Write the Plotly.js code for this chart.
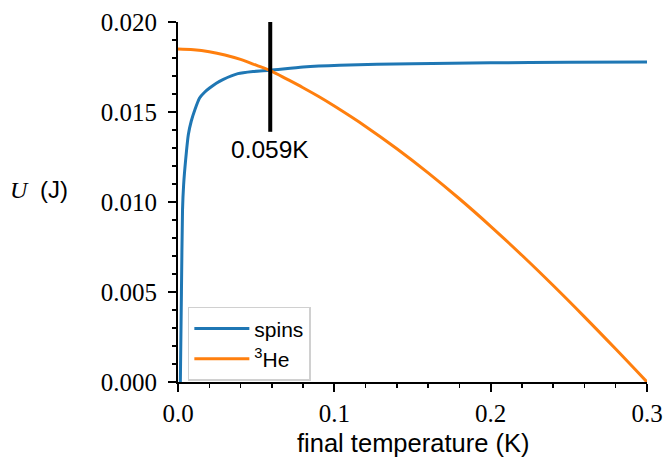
<!DOCTYPE html>
<html>
<head>
<meta charset="utf-8">
<script src="https://cdn.plot.ly/plotly-3.0.1.min.js"></script>
<style>html,body{margin:0;padding:0;background:#fff;}#chart{width:665px;height:460px;}</style>
</head>
<body>
<div id="chart"></div>
<script>
// Data
const spinsT = [0.0015, 0.0022, 0.0029, 0.0036, 0.0049, 0.0066, 0.0085, 0.0108, 0.0138, 0.0170, 0.0202, 0.0245, 0.0287, 0.0383, 0.0480, 0.059, 0.080, 0.1034, 0.150, 0.200, 0.250, 0.300];
const spinsU = [0.0, 0.0050, 0.00957, 0.01096, 0.01235, 0.01374, 0.01450, 0.01513, 0.01578, 0.01610, 0.01633, 0.01660, 0.01680, 0.01713, 0.01725, 0.01732, 0.01750, 0.01760, 0.01768, 0.01773, 0.01776, 0.01778];
const heT = [0.000, 0.010, 0.020, 0.030, 0.040, 0.050, 0.059, 0.070, 0.080, 0.090, 0.100, 0.120, 0.140, 0.160, 0.180, 0.200, 0.220, 0.240, 0.260, 0.280, 0.300];
const heU = [0.01850, 0.01846, 0.01835, 0.01817, 0.01792, 0.01760, 0.01730, 0.01681, 0.01635, 0.01586, 0.01533, 0.01420, 0.01296, 0.01162, 0.01018, 0.00865, 0.00704, 0.00536, 0.00362, 0.00183, 0.0];
const crossT = 0.059;
const markerT = [crossT, crossT];
const markerU = [0.0139, 0.0200];
const markerLabel = "0.059K";
const seriesNames = ["spins", "<sup>3</sup>He"];
const xTicks = [0.0, 0.1, 0.2, 0.3];
const xTickText = ["0.0", "0.1", "0.2", "0.3"];
const yTicks = [0.000, 0.005, 0.010, 0.015, 0.020];
const yTickText = ["0.000", "0.005", "0.010", "0.015", "0.020"];

const serif = "'Liberation Serif', 'DejaVu Serif', serif";
const sans = "'Liberation Sans', Arial, sans-serif";

const traces = [
  {x: spinsT, y: spinsU, type: "scatter", mode: "lines", name: seriesNames[0],
   line: {color: "#1f77b4", width: 3, shape: "spline", smoothing: 0.6}},
  {x: heT, y: heU, type: "scatter", mode: "lines", name: seriesNames[1],
   line: {color: "#ff7f0e", width: 3, shape: "spline", smoothing: 1}},
  {x: markerT, y: markerU, type: "scatter", mode: "lines", showlegend: false,
   line: {color: "#000", width: 4}, hoverinfo: "skip"}
];

const layout = {
  width: 665, height: 460,
  margin: {l: 178, r: 18, t: 22, b: 78},
  paper_bgcolor: "#fff", plot_bgcolor: "#fff",
  showlegend: true,
  legend: {x: 0.021, y: 0.209, xanchor: "left", yanchor: "top", itemwidth: 55,
           bgcolor: "rgba(255,255,255,0.8)", bordercolor: "#d0d0d0", borderwidth: 1.5,
           font: {family: sans, size: 21, color: "#000"}, tracegroupgap: 0},
  xaxis: {range: [0, 0.3], tickvals: xTicks, ticktext: xTickText,
          ticks: "outside", ticklen: 8, tickwidth: 2, tickcolor: "#000",
          showline: true, linewidth: 2, linecolor: "#000", showgrid: false, zeroline: false,
          tickfont: {family: serif, size: 25, color: "#000"},
          minor: {dtick: 0.02, tick0: 0, ticks: "outside", ticklen: 4, tickwidth: 1.5, tickcolor: "#000", showgrid: false}},
  yaxis: {range: [0, 0.02], tickvals: yTicks, ticktext: yTickText, ticklabelstandoff: 6,
          ticks: "outside", ticklen: 8, tickwidth: 2, tickcolor: "#000",
          showline: true, linewidth: 2, linecolor: "#000", showgrid: false, zeroline: false,
          tickfont: {family: serif, size: 25, color: "#000"},
          minor: {dtick: 0.001, tick0: 0, ticks: "outside", ticklen: 4, tickwidth: 1.5, tickcolor: "#000", showgrid: false}},
  annotations: [
    {xref: "x", yref: "y", x: crossT, y: 0.0129, text: markerLabel, showarrow: false,
     xanchor: "center", yanchor: "middle", font: {family: sans, size: 24.5, color: "#000"}},
    {xref: "paper", yref: "paper", x: 0.5, y: -0.17, text: "final temperature (K)", showarrow: false,
     xanchor: "center", yanchor: "middle", font: {family: sans, size: 25.5, color: "#000"}},
    {xref: "paper", yref: "paper", x: -0.362, y: 0.534, xanchor: "left", yanchor: "middle", showarrow: false,
     text: "<span style=\"font-family:'Liberation Serif',serif;font-style:italic\">U</span>&#8197; (J)",
     font: {family: sans, size: 24, color: "#000"}}
  ]
};

Plotly.newPlot("chart", traces, layout, {displayModeBar: false, staticPlot: true});
</script>
</body>
</html>
